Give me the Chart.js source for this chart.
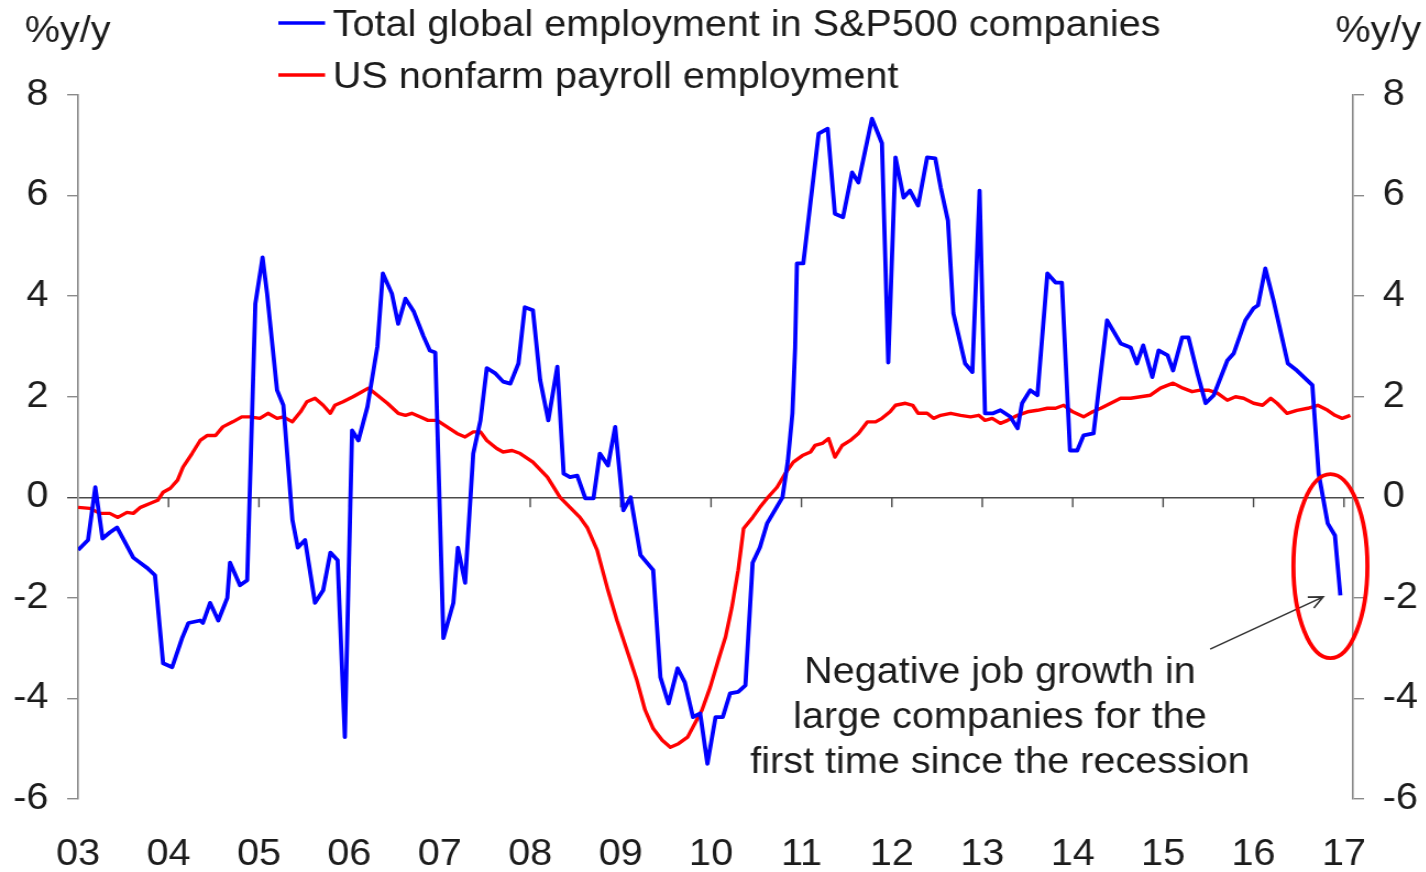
<!DOCTYPE html>
<html>
<head>
<meta charset="utf-8">
<title>S&amp;P500 employment vs US payrolls</title>
<script src="https://cdn.jsdelivr.net/npm/chart.js@4.4.1/dist/chart.umd.min.js"></script>
<style>
  html, body { margin: 0; padding: 0; background: #fff; overflow: hidden; }
  #wrap { width: 1426px; height: 872px; }
  /* the chart is drawn a bit narrower and widened here, so the type comes out broad */
  #chart { display: block; transform: scaleX(1.1); transform-origin: 0 0; }
</style>
</head>
<body>
<div id="wrap"><canvas id="chart" width="1296" height="872"></canvas></div>
<script>
// x tick labels, one per January
const firstYear = 2003;
const lastX = 2017.1;
const yearLabels = ['03', '04', '05', '06', '07', '08', '09', '10', '11', '12', '13', '14', '15', '16', '17'];

// Total global employment in S&P500 companies, %y/y
const sp500Dates = [
  2003.00, 2003.11, 2003.19, 2003.27, 2003.35, 2003.43, 2003.61, 2003.76, 2003.85, 2003.94,
  2004.04, 2004.15, 2004.22, 2004.35, 2004.38, 2004.46, 2004.55, 2004.65, 2004.68, 2004.79, 2004.87, 2004.96,
  2005.04, 2005.09, 2005.20, 2005.27, 2005.37, 2005.43, 2005.51, 2005.62, 2005.71, 2005.79, 2005.87, 2005.95,
  2006.03, 2006.10, 2006.20, 2006.31, 2006.37, 2006.47, 2006.54, 2006.62, 2006.71, 2006.82, 2006.89, 2006.95,
  2007.04, 2007.15, 2007.20, 2007.28, 2007.37, 2007.45, 2007.52, 2007.61, 2007.70, 2007.78, 2007.87, 2007.94,
  2008.03, 2008.11, 2008.20, 2008.30, 2008.37, 2008.44, 2008.52, 2008.61, 2008.70, 2008.77, 2008.86, 2008.94,
  2009.03, 2009.11, 2009.22, 2009.36, 2009.44, 2009.53, 2009.63, 2009.71, 2009.80, 2009.88, 2009.96,
  2010.05, 2010.13, 2010.21, 2010.30, 2010.38, 2010.46, 2010.54, 2010.62, 2010.79, 2010.85, 2010.90, 2010.93, 2010.95,
  2011.02, 2011.19, 2011.29, 2011.37, 2011.46, 2011.56, 2011.63, 2011.78, 2011.89, 2011.96,
  2012.04, 2012.13, 2012.20, 2012.29, 2012.39, 2012.48, 2012.54, 2012.62, 2012.68, 2012.81, 2012.89, 2012.97,
  2013.03, 2013.12, 2013.20, 2013.31, 2013.39, 2013.44, 2013.53, 2013.61, 2013.72, 2013.81, 2013.88, 2013.97,
  2014.05, 2014.12, 2014.23, 2014.38, 2014.53, 2014.64, 2014.71, 2014.78, 2014.88, 2014.95,
  2015.05, 2015.11, 2015.21, 2015.28, 2015.38, 2015.47, 2015.56, 2015.71, 2015.78, 2015.91,
  2016.00, 2016.05, 2016.13, 2016.22, 2016.38, 2016.48, 2016.65, 2016.72, 2016.82, 2016.90, 2016.96
];
const sp500Values = [
  -1.05, -0.85, 0.2, -0.82, -0.7, -0.6, -1.2, -1.4, -1.55, -3.3,
  -3.38, -2.8, -2.5, -2.45, -2.5, -2.1, -2.45, -2.0, -1.3, -1.75, -1.65, 3.85,
  4.77, 4.05, 2.13, 1.83, -0.45, -1.0, -0.85, -2.1, -1.85, -1.1, -1.25, -4.77,
  1.33, 1.13, 1.8, 3.0, 4.45, 4.05, 3.45, 3.95, 3.7, 3.2, 2.92, 2.88,
  -2.8, -2.1, -1.0, -1.7, 0.87, 1.53, 2.57, 2.47, 2.3, 2.26, 2.66, 3.78,
  3.72, 2.33, 1.53, 2.6, 0.47, 0.4, 0.43, -0.02, -0.02, 0.87, 0.63, 1.4,
  -0.26, 0.0, -1.15, -1.45, -3.58, -4.1, -3.4, -3.68, -4.37, -4.3, -5.3,
  -4.37, -4.37, -3.9, -3.87, -3.74, -1.3, -1.0, -0.52, 0.0, 0.73, 1.67, 2.98, 4.65,
  4.65, 7.23, 7.33, 5.64, 5.57, 6.46, 6.26, 7.53, 7.04, 2.68,
  6.76, 5.96, 6.1, 5.8, 6.76, 6.74, 6.16, 5.5, 3.66, 2.66, 2.49, 6.1,
  1.67, 1.67, 1.73, 1.6, 1.37, 1.87, 2.13, 2.03, 4.45, 4.27, 4.27, 0.93,
  0.93, 1.23, 1.27, 3.52, 3.06, 2.98, 2.66, 3.02, 2.39, 2.92,
  2.82, 2.52, 3.18, 3.18, 2.46, 1.87, 2.03, 2.72, 2.86, 3.52,
  3.76, 3.82, 4.55, 3.92, 2.66, 2.52, 2.23, 0.47, -0.52, -0.76, -1.95
];

// US nonfarm payroll employment, %y/y
const payrollDates = [
  2003.00, 2003.13, 2003.24, 2003.35, 2003.44, 2003.54, 2003.61, 2003.69, 2003.80, 2003.88, 2003.94,
  2004.02, 2004.10, 2004.16, 2004.26, 2004.35, 2004.43, 2004.52, 2004.60, 2004.71, 2004.81, 2004.90,
  2005.01, 2005.10, 2005.20, 2005.27, 2005.37, 2005.46, 2005.53, 2005.62, 2005.71, 2005.79, 2005.84, 2005.93,
  2006.04, 2006.14, 2006.21, 2006.31, 2006.42, 2006.54, 2006.62, 2006.69, 2006.78, 2006.87, 2006.97,
  2007.08, 2007.19, 2007.28, 2007.37, 2007.45, 2007.52, 2007.63, 2007.70, 2007.80, 2007.89,
  2008.03, 2008.19, 2008.33, 2008.44, 2008.55, 2008.63, 2008.74, 2008.86, 2008.96,
  2009.07, 2009.18, 2009.27, 2009.36, 2009.46, 2009.55, 2009.64, 2009.74, 2009.80, 2009.90, 2009.99,
  2010.08, 2010.16, 2010.23, 2010.30, 2010.36, 2010.46, 2010.54, 2010.63, 2010.73, 2010.82, 2010.91,
  2011.01, 2011.10, 2011.15, 2011.23, 2011.30, 2011.37, 2011.45, 2011.54, 2011.63, 2011.73, 2011.82, 2011.89, 2011.98,
  2012.04, 2012.15, 2012.23, 2012.29, 2012.39, 2012.46, 2012.54, 2012.65, 2012.76, 2012.87, 2012.96,
  2013.03, 2013.11, 2013.20, 2013.28, 2013.39, 2013.50, 2013.61, 2013.72, 2013.81, 2013.90,
  2014.00, 2014.12, 2014.22, 2014.31, 2014.42, 2014.53, 2014.64, 2014.75, 2014.86, 2014.97,
  2015.11, 2015.22, 2015.32, 2015.41, 2015.50, 2015.60, 2015.71, 2015.80, 2015.89,
  2016.00, 2016.10, 2016.19, 2016.26, 2016.37, 2016.48, 2016.60, 2016.71, 2016.82, 2016.90, 2016.98, 2017.07
];
const payrollValues = [
  -0.2, -0.22, -0.32, -0.32, -0.4, -0.3, -0.32, -0.2, -0.12, -0.06, 0.1,
  0.18, 0.34, 0.6, 0.87, 1.13, 1.23, 1.23, 1.4, 1.5, 1.6, 1.6,
  1.57, 1.67, 1.57, 1.6, 1.5, 1.7, 1.9, 1.97, 1.83, 1.67, 1.83, 1.9,
  2.0, 2.1, 2.17, 2.03, 1.87, 1.67, 1.63, 1.67, 1.6, 1.53, 1.53,
  1.4, 1.27, 1.2, 1.3, 1.3, 1.13, 0.97, 0.9, 0.93, 0.87,
  0.7, 0.4, 0.0, -0.2, -0.4, -0.6, -1.05, -1.85, -2.45,
  -3.04, -3.64, -4.23, -4.6, -4.83, -4.97, -4.9, -4.77, -4.57, -4.23, -3.78,
  -3.24, -2.78, -2.19, -1.45, -0.62, -0.4, -0.2, 0.0, 0.2, 0.47, 0.7,
  0.83, 0.9, 1.03, 1.07, 1.17, 0.8, 1.03, 1.13, 1.27, 1.5, 1.5, 1.57, 1.7,
  1.83, 1.87, 1.83, 1.67, 1.67, 1.57, 1.63, 1.67, 1.63, 1.6, 1.63,
  1.53, 1.57, 1.47, 1.53, 1.63, 1.7, 1.73, 1.77, 1.77, 1.83,
  1.7, 1.6, 1.7, 1.77, 1.87, 1.97, 1.97, 2.0, 2.03, 2.17,
  2.27, 2.17, 2.1, 2.13, 2.13, 2.07, 1.93, 2.0, 1.97,
  1.87, 1.83, 1.97, 1.87, 1.67, 1.73, 1.77, 1.83, 1.73, 1.63, 1.57, 1.63
];

const noteLines = ['Negative job growth in', 'large companies for the', 'first time since the recession'];
const unitLabel = '%y/y';

const FONT = '"Liberation Sans", Arial, Helvetica, sans-serif';
const TEXT = '#1c1c1c';
const AXIS = '#8a8a8a';
const ZERO = '#4a4a4a';
const BLUE = '#0000ff';
const RED = '#ff0000';

Chart.defaults.font.family = FONT;
Chart.defaults.font.size = 36;
Chart.defaults.color = TEXT;

function toPoints(xs, ys) {
  return xs.map((x, i) => ({ x: x, y: ys[i] }));
}

// legend, unit labels, zero-line year ticks and the callout
const decorations = {
  id: 'decorations',
  beforeDatasetsDraw(chart) {
    const { ctx, scales: { x, y } } = chart;
    const y0 = y.getPixelForValue(0);
    ctx.save();
    ctx.strokeStyle = ZERO;
    ctx.lineWidth = 1.4;
    x.ticks.forEach((t, i) => {
      if (i === 0) return;
      const px = x.getPixelForValue(t.value);
      ctx.beginPath();
      ctx.moveTo(px, y0);
      ctx.lineTo(px, y0 + 10);
      ctx.stroke();
    });
    ctx.restore();
  },
  afterDraw(chart) {
    const { ctx, scales: { x, y } } = chart;
    ctx.save();
    ctx.font = '36px ' + FONT;
    ctx.fillStyle = TEXT;
    ctx.textBaseline = 'alphabetic';

    // unit labels above both axes
    ctx.textAlign = 'left';
    ctx.fillText(unitLabel, 22.5, 42);
    ctx.textAlign = 'right';
    ctx.fillText(unitLabel, 1292, 42);

    // legend rows
    ctx.textAlign = 'left';
    chart.data.datasets.forEach((ds, i) => {
      const ly = 23 + i * 52;
      ctx.strokeStyle = ds.borderColor;
      ctx.lineWidth = 3.6;
      ctx.beginPath();
      ctx.moveTo(253, ly);
      ctx.lineTo(295.5, ly);
      ctx.stroke();
      ctx.fillText(ds.label, 302.5, ly + 13);
    });

    // callout text
    ctx.textAlign = 'center';
    noteLines.forEach((line, i) => ctx.fillText(line, 909, 683 + i * 45));

    // arrow towards the latest reading
    const tx = x.getPixelForValue(2015.52), ty = y.getPixelForValue(-3.02);
    const hx = x.getPixelForValue(2016.77), hy = y.getPixelForValue(-1.98);
    const ang = Math.atan2(hy - ty, hx - tx);
    ctx.strokeStyle = '#333';
    ctx.lineWidth = 1.6;
    ctx.beginPath();
    ctx.moveTo(tx, ty);
    ctx.lineTo(hx, hy);
    ctx.moveTo(hx - 14 * Math.cos(ang - 0.45), hy - 14 * Math.sin(ang - 0.45));
    ctx.lineTo(hx, hy);
    ctx.lineTo(hx - 14 * Math.cos(ang + 0.45), hy - 14 * Math.sin(ang + 0.45));
    ctx.stroke();

    // ring around the drop below zero
    ctx.strokeStyle = RED;
    ctx.lineWidth = 3.8;
    ctx.beginPath();
    ctx.ellipse(x.getPixelForValue(2016.85), y.getPixelForValue(-1.37), 33.6, 92, 0, 0, Math.PI * 2);
    ctx.stroke();
    ctx.restore();
  }
};

const yTicks = { stepSize: 2, padding: 17 };

new Chart(document.getElementById('chart'), {
  type: 'line',
  data: {
    datasets: [
      {
        label: 'Total global employment in S&P500 companies',
        data: toPoints(sp500Dates, sp500Values),
        borderColor: BLUE,
        borderWidth: 3.8,
        pointRadius: 0,
        tension: 0,
        borderJoinStyle: 'round',
        yAxisID: 'y'
      },
      {
        label: 'US nonfarm payroll employment',
        data: toPoints(payrollDates, payrollValues),
        borderColor: RED,
        borderWidth: 3.4,
        pointRadius: 0,
        tension: 0,
        borderJoinStyle: 'round',
        yAxisID: 'y'
      }
    ]
  },
  options: {
    responsive: false,
    animation: false,
    devicePixelRatio: 1,
    layout: { padding: { top: 95, left: 0, right: 0, bottom: 0 } },
    plugins: {
      legend: { display: false },
      title: { display: false },
      tooltip: { enabled: false }
    },
    scales: {
      x: {
        type: 'linear',
        min: firstYear,
        max: lastX,
        grid: { display: false, drawTicks: false },
        border: { display: false },
        ticks: {
          padding: 34,
          autoSkip: false,
          maxRotation: 0,
          includeBounds: false,
          callback: (v, i) => yearLabels[i]
        },
        afterBuildTicks: (s) => { s.ticks = yearLabels.map((_, i) => ({ value: firstYear + i })); },
        afterFit: (s) => { s.height = 73; }
      },
      y: {
        position: 'left',
        min: -6,
        max: 8,
        ticks: yTicks,
        grid: {
          color: (c) => (c.tick && c.tick.value === 0 ? ZERO : 'rgba(0,0,0,0)'),
          tickColor: (c) => (c.tick && c.tick.value === 0 ? ZERO : AXIS),
          lineWidth: 1.4,
          tickLength: 10
        },
        border: { color: AXIS, width: 1.6 },
        afterFit: (s) => { s.width = 71; }
      },
      y2: {
        position: 'right',
        min: -6,
        max: 8,
        ticks: yTicks,
        grid: {
          drawOnChartArea: false,
          tickColor: (c) => (c.tick && c.tick.value === 0 ? ZERO : AXIS),
          lineWidth: 1.4,
          tickLength: 10
        },
        border: { color: AXIS, width: 1.6 },
        afterFit: (s) => { s.width = 66; }
      }
    }
  },
  plugins: [decorations]
});
</script>
</body>
</html>
